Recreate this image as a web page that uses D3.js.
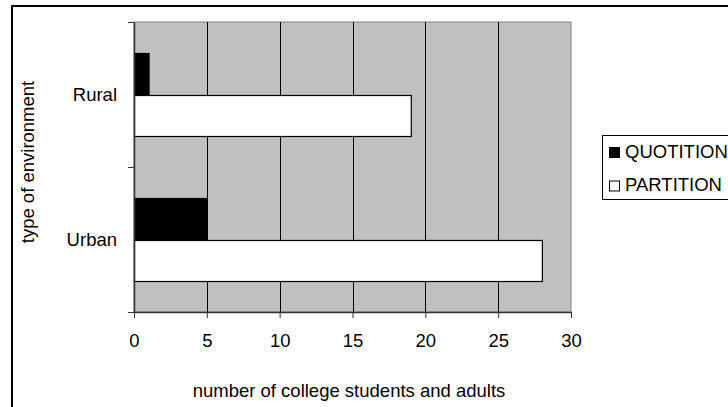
<!DOCTYPE html>
<html>
<head>
<meta charset="utf-8">
<script src="https://cdn.jsdelivr.net/npm/d3@7"></script>
<style>
  html, body { margin: 0; padding: 0; background: #fff; }
  svg { display: block; font-family: "Liberation Sans", Arial, sans-serif; }
</style>
</head>
<body>
<svg id="chart" width="728" height="407"></svg>
<script>
const categories = ["Rural", "Urban"];
const seriesNames = ["QUOTITION", "PARTITION"];
const quotitionValues = [1, 5];
const partitionValues = [19, 28];
const xTicks = [0, 5, 10, 15, 20, 25, 30];
const xTitle = "number of college students and adults";
const yTitle = "type of environment";

const seriesValues = { QUOTITION: quotitionValues, PARTITION: partitionValues };
const seriesFill = { QUOTITION: "#000000", PARTITION: "#ffffff" };

const FS = 18.5;
const svg = d3.select("#chart");
const plot = { left: 134, right: 571, top: 22, bottom: 312 };

// outer chart border
svg.append("rect").attr("x", 12).attr("y", 6).attr("width", 740).attr("height", 420)
  .attr("fill", "#fff").attr("stroke", "#000").attr("stroke-width", 2);

const x = d3.scaleLinear().domain([0, 30]).range([plot.left, plot.right]);
const y = d3.scaleBand().domain(categories).range([plot.top, plot.bottom]).padding(0);
const ySub = d3.scaleBand().domain(seriesNames).range([0, y.bandwidth()]).paddingInner(0).paddingOuter(0.768);

// plot area
svg.append("rect").attr("x", plot.left).attr("y", plot.top)
  .attr("width", plot.right - plot.left).attr("height", plot.bottom - plot.top)
  .attr("fill", "#c0c0c0").attr("stroke", "#808080").attr("stroke-width", 1);

// gridlines
svg.append("g").selectAll("line").data(xTicks.filter(t => t > 0 && t < 30)).join("line")
  .attr("x1", d => Math.round(x(d)) + 0.5).attr("x2", d => Math.round(x(d)) + 0.5)
  .attr("y1", plot.top).attr("y2", plot.bottom)
  .attr("stroke", "#000").attr("stroke-width", 1);

// bars
const rows = [];
categories.forEach((c, i) => seriesNames.forEach(s => rows.push({ cat: c, series: s, value: seriesValues[s][i] })));
svg.append("g").selectAll("rect").data(rows).join("rect")
  .attr("x", x(0) + 0.5)
  .attr("y", d => Math.round(y(d.cat) + ySub(d.series)) + 0.5)
  .attr("width", d => x(d.value) - x(0))
  .attr("height", ySub.bandwidth())
  .attr("fill", d => seriesFill[d.series])
  .attr("stroke", "#000").attr("stroke-width", 1.2);

// x axis
const xAxis = d3.axisBottom(x).tickValues(xTicks).tickSize(6).tickSizeOuter(0).tickPadding(16);
const gx = svg.append("g").attr("transform", `translate(0,${plot.bottom})`).call(xAxis);
gx.select(".domain").attr("stroke", "#333").attr("stroke-width", 1.5);
gx.selectAll(".tick line").attr("stroke", "#333");
gx.selectAll(".tick text").attr("font-size", FS).attr("fill", "#000")
  .attr("font-family", "Liberation Sans, Arial, sans-serif");

// y axis with ticks at category boundaries
const yAxisScale = d3.scaleLinear().domain([0, 2]).range([plot.bottom, plot.top]);
const gy = svg.append("g").attr("transform", `translate(${plot.left},0)`)
  .call(d3.axisLeft(yAxisScale).tickValues([0, 1, 2]).tickSize(6).tickSizeOuter(0).tickFormat(""));
gy.select(".domain").attr("stroke", "#333").attr("stroke-width", 1.5);
gy.selectAll(".tick line").attr("stroke", "#333");

// category labels
svg.append("g").selectAll("text").data(categories).join("text")
  .attr("x", 117).attr("y", d => y(d) + y.bandwidth() / 2 + 6.6)
  .attr("text-anchor", "end").attr("font-size", FS).attr("fill", "#000")
  .text(d => d);

// axis titles
svg.append("text").attr("x", 349).attr("y", 397)
  .attr("text-anchor", "middle").attr("font-size", FS).attr("fill", "#000").text(xTitle);
svg.append("text").attr("transform", `translate(34,162) rotate(-90)`)
  .attr("text-anchor", "middle").attr("font-size", FS).attr("fill", "#000").text(yTitle);

// legend
const lg = svg.append("g");
lg.append("rect").attr("x", 602.5).attr("y", 135.5).attr("width", 140).attr("height", 64)
  .attr("fill", "#fff").attr("stroke", "#000").attr("stroke-width", 1);
const items = lg.selectAll("g.item").data(seriesNames).join("g").attr("class", "item")
  .attr("transform", (d, i) => `translate(0,${i * 33.5})`);
items.append("rect").attr("x", 609.5).attr("y", 147.5).attr("width", 10).attr("height", 10)
  .attr("fill", d => seriesFill[d]).attr("stroke", "#000").attr("stroke-width", 1);
items.append("text").attr("x", 625).attr("y", 157.5).attr("font-size", FS).attr("fill", "#000")
  .text(d => d);
</script>
</body>
</html>
